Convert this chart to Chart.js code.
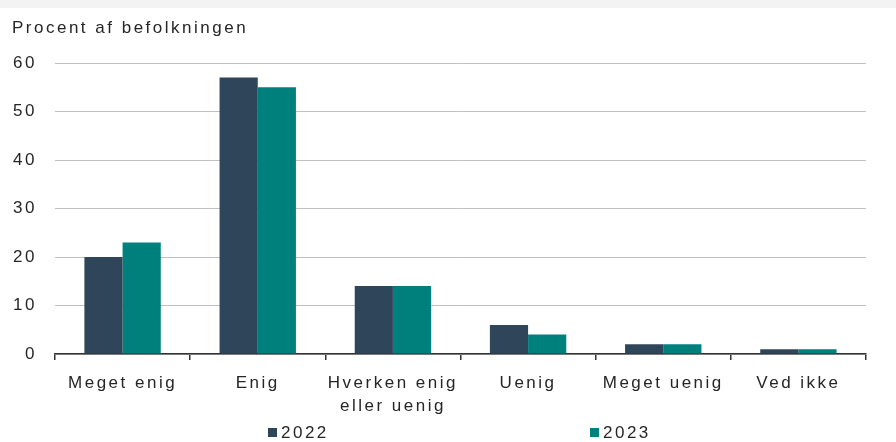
<!DOCTYPE html>
<html>
<head>
<meta charset="utf-8">
<script src="https://cdn.jsdelivr.net/npm/chart.js@4/dist/chart.umd.min.js"></script>
<style>
  html, body { margin: 0; padding: 0; background: #ffffff; }
  #wrap { position: relative; width: 896px; height: 442px; overflow: hidden; }
  #topband { position: absolute; left: 0; top: 0; width: 896px; height: 8px; background: #f3f3f3; }
  #c { position: absolute; left: 0; top: 0; }
  .leg { position: absolute; top: 422px; font-family: "Liberation Sans", Arial, sans-serif; font-size: 17px; letter-spacing: 2.5px; color: #262626; line-height: 22px; white-space: nowrap; }
  .leg span.box { display: inline-block; width: 9px; height: 9px; margin-right: 4px; vertical-align: 1px; }
</style>
</head>
<body>
<div id="wrap">
  <div id="topband"></div>
  <canvas id="c" width="896" height="442"></canvas>
  <div id="legend"></div>
</div>
<script>
const categories = ["Meget enig", "Enig", ["Hverken enig", "eller uenig"], "Uenig", "Meget uenig", "Ved ikke"];
const seriesNames = ["2022", "2023"];
const values2022 = [20, 57, 14, 6, 2, 1];
const values2023 = [23, 55, 14, 4, 2, 1];
const yTicks = [0, 10, 20, 30, 40, 50, 60];
const yTitle = "Procent af befolkningen";
const colors = ["#2f4559", "#00807d"];

const SPACING = '2.5px';
const spacingPlugin = {
  id: 'spacing',
  beforeUpdate(chart) { chart.ctx.letterSpacing = SPACING; },
  beforeLayout(chart) { chart.ctx.letterSpacing = SPACING; },
  beforeDraw(chart) { chart.ctx.letterSpacing = SPACING; }
};

const FONT = { family: '"Liberation Sans", Arial, sans-serif', size: 17, weight: 'normal' };

const chart = new Chart(document.getElementById('c'), {
  type: 'bar',
  data: {
    labels: categories,
    datasets: [
      { label: seriesNames[0], data: values2022, backgroundColor: colors[0], borderWidth: 0 },
      { label: seriesNames[1], data: values2023, backgroundColor: colors[1], borderWidth: 0 }
    ]
  },
  plugins: [spacingPlugin],
  options: {
    responsive: false,
    animation: false,
    devicePixelRatio: 1,
    layout: { padding: { left: 12, right: 30, top: 0, bottom: 28 } },
    datasets: { bar: { categoryPercentage: 0.565, barPercentage: 1.0 } },
    plugins: {
      legend: { display: false },
      tooltip: { enabled: false },
      title: {
        display: true,
        text: yTitle,
        align: 'start',
        color: '#262626',
        font: FONT,
        padding: { top: 18, bottom: 24.6 }
      }
    },
    scales: {
      x: {
        grid: { display: true, drawOnChartArea: false, drawTicks: true, tickLength: 6, color: '#333333', lineWidth: 1.5, offset: true },
        border: { display: true, color: '#333333', width: 1.5 },
        ticks: { color: '#262626', font: { ...FONT, lineHeight: 1.35 }, padding: 12, maxRotation: 0, autoSkip: false },
        afterFit(s) { s.height = 60; }
      },
      y: {
        min: 0, max: 60,
        afterBuildTicks(s) { s.ticks = yTicks.map(v => ({ value: v })); },
        grid: { color: '#c0c0c0', lineWidth: 1, drawTicks: false },
        border: { display: false },
        ticks: { color: '#262626', font: FONT, padding: 18 },
        afterFit(s) { s.width = 43; }
      }
    }
  }
});

// HTML legend built from dataset info
const legendPos = [268, 590];
const legendEl = document.getElementById('legend');
chart.data.datasets.forEach((ds, i) => {
  const d = document.createElement('div');
  d.className = 'leg';
  d.style.left = legendPos[i] + 'px';
  const b = document.createElement('span');
  b.className = 'box';
  b.style.background = ds.backgroundColor;
  d.appendChild(b);
  d.appendChild(document.createTextNode(ds.label));
  legendEl.appendChild(d);
});
</script>
</body>
</html>
